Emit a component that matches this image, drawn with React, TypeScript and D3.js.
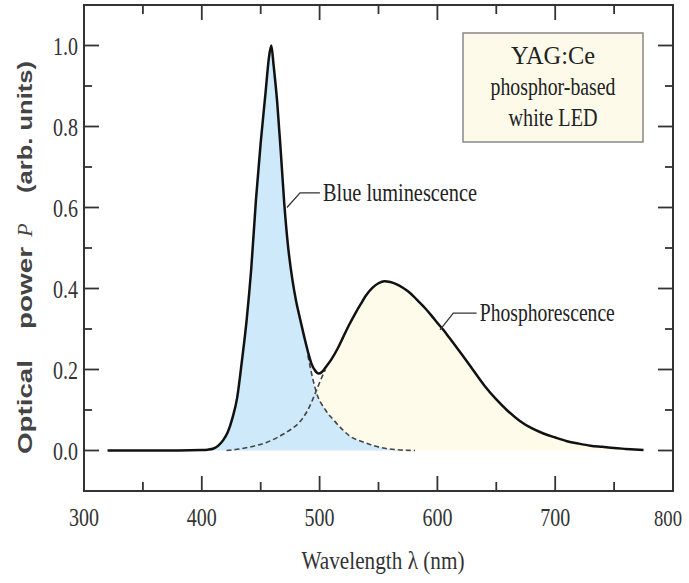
import * as React from "react";
import * as d3 from "d3";

// total emission spectrum (solid black curve)
const wavelength = [
  320, 340, 360, 380, 400, 405, 410, 414, 418, 422, 426, 430, 434, 438, 442,
  446, 450, 454, 457, 459, 461, 464, 467, 470, 473, 477, 480, 483, 487, 490,
  493, 496, 499, 502, 505, 510, 515, 520, 525, 530, 535, 540, 545, 550, 555,
  560, 565, 570, 575, 580, 585, 590, 595, 600, 605, 610, 620, 630, 640, 650,
  660, 670, 680, 690, 700, 710, 720, 730, 740, 750, 760, 775,
];
const totalPower = [
  0.0, 0.0, 0.0, 0.0, 0.001, 0.002, 0.005, 0.012, 0.025, 0.045, 0.08, 0.13,
  0.22, 0.32, 0.45, 0.62, 0.76, 0.88, 0.97, 1.0, 0.95, 0.86, 0.74, 0.61, 0.51,
  0.42, 0.37, 0.33, 0.28, 0.245, 0.215, 0.198, 0.19, 0.194, 0.205, 0.225,
  0.25, 0.28, 0.31, 0.337, 0.362, 0.385, 0.402, 0.413, 0.418, 0.416, 0.411,
  0.403, 0.393, 0.38, 0.365, 0.35, 0.333, 0.315, 0.298, 0.279, 0.24, 0.2,
  0.16, 0.126, 0.097, 0.073, 0.055, 0.042, 0.032, 0.023, 0.017, 0.012, 0.009,
  0.006, 0.004, 0.001,
];

// dashed tail of the blue component
const blueTailWl = [490, 494, 497, 505, 512, 520, 526, 533, 540, 547, 554, 565, 581];
const blueTailP = [0.235, 0.18, 0.146, 0.1, 0.075, 0.05, 0.035, 0.025, 0.018, 0.011, 0.006, 0.002, 0.0];

// dashed rising edge of the phosphor component
const phosRiseWl = [421, 430, 443, 455, 469, 476, 483, 490, 497, 501, 505];
const phosRiseP = [0.0, 0.003, 0.01, 0.02, 0.04, 0.053, 0.07, 0.1, 0.146, 0.175, 0.2];

const xTickLabels = [300, 400, 500, 600, 700, 800];
const yTickValues = [0, 0.2, 0.4, 0.6, 0.8, 1.0];
const yTickLabels = ["0.0", "0.2", "0.4", "0.6", "0.8", "1.0"];
const legendLines = ["YAG:Ce", "phosphor-based", "white LED"];

type Pt = [number, number];
const zip = (a: number[], b: number[]): Pt[] => a.map((v, i) => [v, b[i]]);

const x = d3.scaleLinear().domain([300, 800]).range([84, 673]);
const y = d3.scaleLinear().domain([-0.1, 1.1]).range([491, 5]);

const SERIF = "'Liberation Serif', 'Times New Roman', serif";
const SANS = "'Liberation Sans', Arial, sans-serif";

export default function App() {
  const total = zip(wavelength, totalPower);
  const blueTail = zip(blueTailWl, blueTailP);
  const phosRise = zip(phosRiseWl, phosRiseP);

  const blueEdge = total.filter((d) => d[0] <= 493).concat(blueTail.filter((d) => d[0] >= 494));
  const creamEdge = phosRise.filter((d) => d[0] <= 501).concat(total.filter((d) => d[0] >= 503));

  const line = d3
    .line<Pt>()
    .x((d) => x(d[0]))
    .y((d) => y(d[1]))
    .curve(d3.curveMonotoneX);
  const area = d3
    .area<Pt>()
    .x((d) => x(d[0]))
    .y0(y(0))
    .y1((d) => y(d[1]))
    .curve(d3.curveMonotoneX);

  const [x0, x1] = x.range();
  const [yb, yt] = y.range();

  const xTicks = d3.range(350, 800, 50);
  const yTicks = d3.range(0, 11).map((i) => i / 10);

  // leader lines for the annotations, in data units
  const blueLeader: Pt[] = [[472.3, 0.6], [483.4, 0.636], [500.3, 0.636]];
  const phosLeader: Pt[] = [[602.2, 0.298], [613.5, 0.339], [633.3, 0.339]];
  const straight = d3.line<Pt>().x((d) => x(d[0])).y((d) => y(d[1]));

  return (
    <svg
      width={689}
      height={583}
      style={{ position: "absolute", left: 0, top: 0, background: "#fff" }}
    >
      {/* component fills: cream below, blue drawn over it */}
      <path d={area(creamEdge) ?? ""} fill="#fffbea" />
      <path d={area(blueEdge) ?? ""} fill="#cde9fa" />

      {/* dashed component curves */}
      <path d={line(blueTail) ?? ""} fill="none" stroke="#444" strokeWidth={1.6} strokeDasharray="5,3" />
      <path d={line(phosRise) ?? ""} fill="none" stroke="#444" strokeWidth={1.6} strokeDasharray="5,3" />

      {/* total spectrum */}
      <path d={line(total) ?? ""} fill="none" stroke="#111" strokeWidth={2.5} strokeLinejoin="round" />

      {/* frame */}
      <rect x={x0} y={yt} width={x1 - x0} height={yb - yt} fill="none" stroke="#333" strokeWidth={2} />

      {/* x ticks, top and bottom */}
      {xTicks.map((t) => {
        const len = t % 100 === 0 ? 15 : 9;
        return (
          <g key={"xt" + t} stroke="#333" strokeWidth={1.8}>
            <line x1={x(t)} x2={x(t)} y1={yb} y2={yb - len} />
            <line x1={x(t)} x2={x(t)} y1={yt} y2={yt + len} />
          </g>
        );
      })}
      {/* y ticks, left and right */}
      {yTicks.map((t, i) => {
        const len = i % 2 === 0 ? 15 : 8;
        return (
          <g key={"yt" + i} stroke="#333" strokeWidth={1.8}>
            <line x1={x0} x2={x0 + len} y1={y(t)} y2={y(t)} />
            <line x1={x1} x2={x1 - len} y1={y(t)} y2={y(t)} />
          </g>
        );
      })}

      {/* tick labels */}
      {xTickLabels.map((t, i) => {
        const last = i === xTickLabels.length - 1;
        return (
          <text
            key={"xl" + t}
            x={last ? 682 : x(t)}
            y={526}
            textAnchor={last ? "end" : "middle"}
            fontFamily={SERIF}
            fontSize={last ? 23 : 25}
            textLength={last ? 28 : 30}
            lengthAdjust="spacingAndGlyphs"
            fill="#333"
          >
            {t}
          </text>
        );
      })}
      {yTickValues.map((t, i) => (
        <text
          key={"yl" + i}
          x={78}
          y={y(t) + 9}
          textAnchor="end"
          fontFamily={SERIF}
          fontSize={26}
          textLength={25}
          lengthAdjust="spacingAndGlyphs"
          fill="#333"
        >
          {yTickLabels[i]}
        </text>
      ))}

      {/* axis titles */}
      <text
        x={383}
        y={569}
        textAnchor="middle"
        fontFamily={SERIF}
        fontSize={26}
        textLength={163}
        lengthAdjust="spacingAndGlyphs"
        fill="#333"
      >
        Wavelength λ (nm)
      </text>
      <g fontFamily={SANS} fontSize={20} fontWeight="bold" fill="#444">
        <text transform="translate(32,407) rotate(-90)" textAnchor="middle" textLength={94} lengthAdjust="spacingAndGlyphs">
          Optical
        </text>
        <text transform="translate(32,288) rotate(-90)" textAnchor="middle" textLength={82} lengthAdjust="spacingAndGlyphs">
          power
        </text>
        <text
          transform="translate(32,230) rotate(-90)"
          textAnchor="middle"
          fontFamily={SERIF}
          fontStyle="italic"
          fontWeight="normal"
          fontSize={22}
        >
          P
        </text>
        <text transform="translate(32,127) rotate(-90)" textAnchor="middle" textLength={132} lengthAdjust="spacingAndGlyphs">
          (arb. units)
        </text>
      </g>

      {/* annotations */}
      <path d={straight(blueLeader) ?? ""} fill="none" stroke="#333" strokeWidth={1.3} />
      <text
        x={x(502.9)}
        y={y(0.636) + 8}
        fontFamily={SERIF}
        fontSize={25}
        textLength={154}
        lengthAdjust="spacingAndGlyphs"
        fill="#222"
      >
        Blue luminescence
      </text>
      <path d={straight(phosLeader) ?? ""} fill="none" stroke="#333" strokeWidth={1.3} />
      <text
        x={x(636)}
        y={y(0.339) + 8}
        fontFamily={SERIF}
        fontSize={25}
        textLength={135}
        lengthAdjust="spacingAndGlyphs"
        fill="#222"
      >
        Phosphorescence
      </text>

      {/* legend box */}
      <rect x={463} y={33} width={180} height={109} fill="#fdfaea" stroke="#888" strokeWidth={1.5} />
      {legendLines.map((s, i) => (
        <text
          key={s}
          x={553}
          y={64 + i * 31}
          textAnchor="middle"
          fontFamily={SERIF}
          fontSize={25}
          textLength={[84, 125, 89][i]}
          lengthAdjust="spacingAndGlyphs"
          fill="#222"
        >
          {s}
        </text>
      ))}
    </svg>
  );
}
